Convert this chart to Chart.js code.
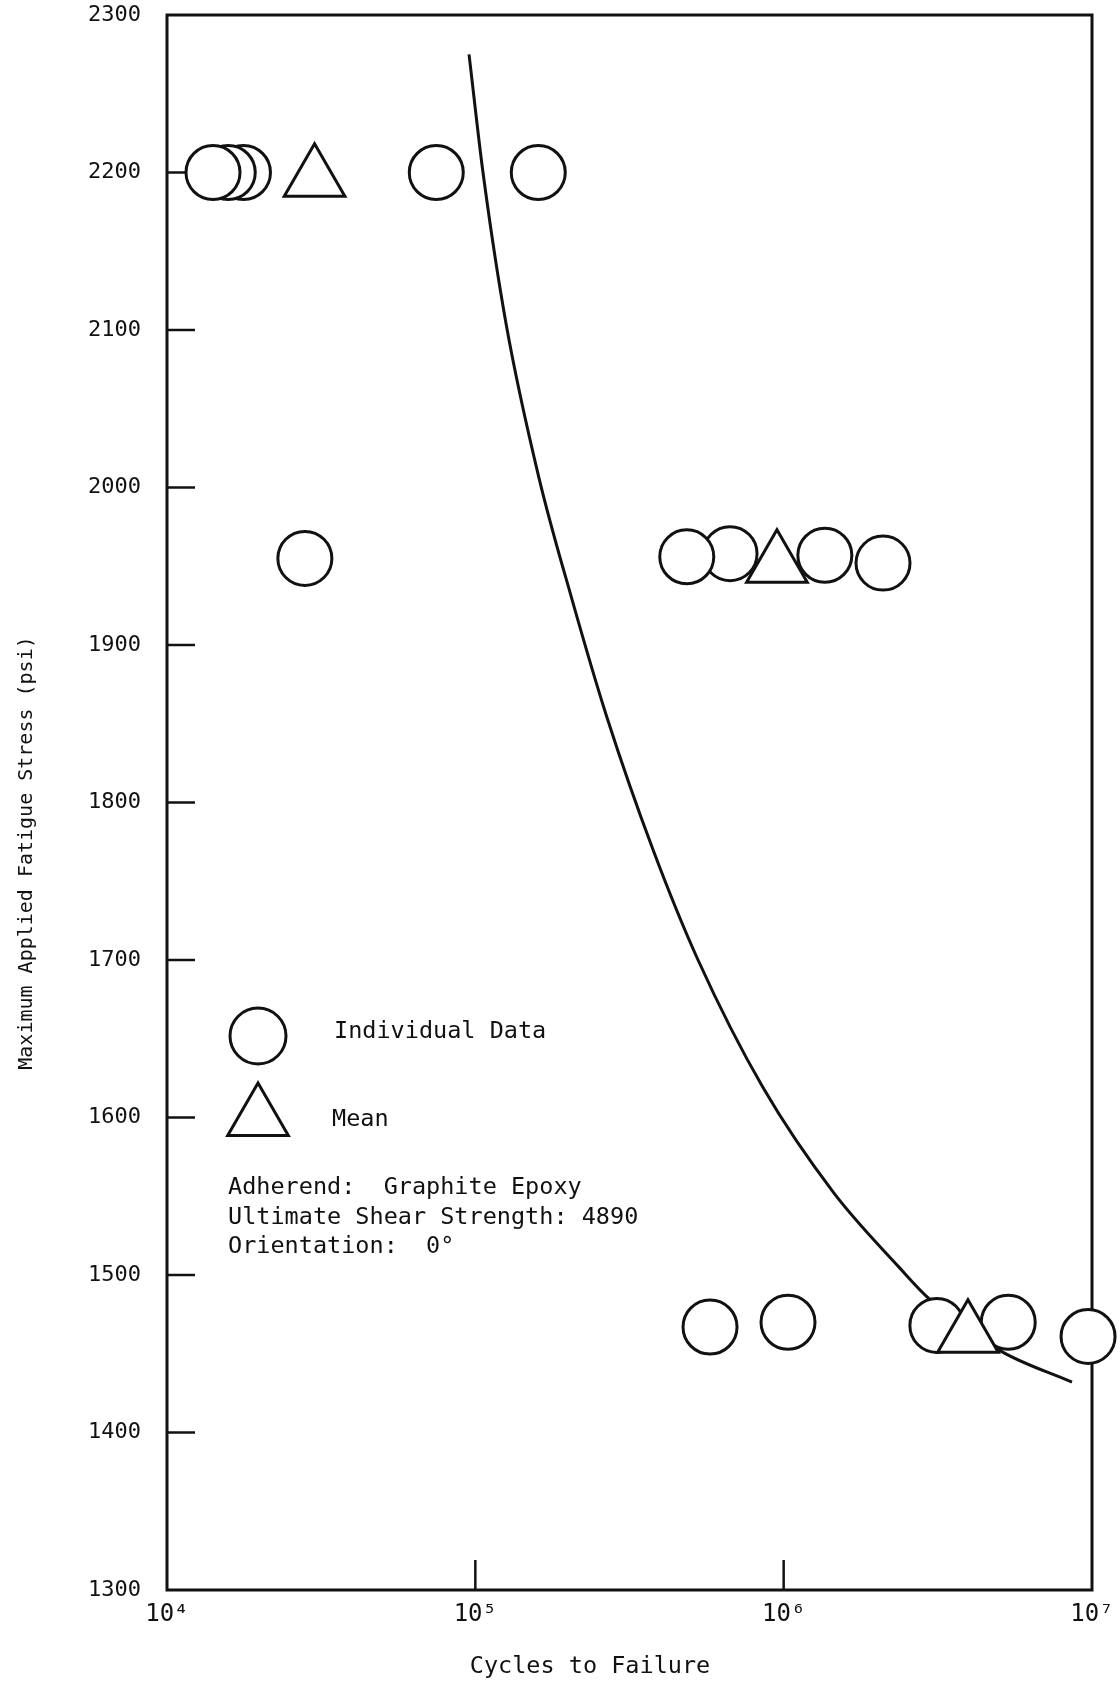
<!DOCTYPE html>
<html>
<head>
<meta charset="utf-8">
<script src="https://cdn.jsdelivr.net/npm/chart.js@4.4.1/dist/chart.umd.min.js"></script>
<style>
  html, body { margin: 0; padding: 0; background: #fff; }
  #wrap { width: 1120px; height: 1689px; }
</style>
</head>
<body>
<div id="wrap"><canvas id="sn_chart" width="1120" height="1689"></canvas></div>
<script>
// individual test results (cycles to failure, max stress psi)
// listed right-to-left inside each row so the left circles end up on top
const individualCycles = [1.77e4, 1.58e4, 1.41e4, 7.47e4, 1.6e5,
                          2.8e4, 2.1e6, 1.36e6, 6.7e5, 4.85e5,
                          9.71e6, 5.35e6, 3.14e6, 1.033e6, 5.77e5]
const individualStress = [2200, 2200, 2200, 2200, 2200,
                          1955, 1952, 1957, 1958, 1956,
                          1461, 1470, 1468, 1470, 1467]

// mean values
const meanCycles = [3.01e4, 9.51e5, 3.96e6]
const meanStress = [2196, 1951, 1462]

// fitted S-N curve
const curveCycles = [9.54e4, 1.059e5, 1.258e5, 1.609e5, 2.058e5, 2.673e5, 3.77e5,
                     5.276e5, 8.57e5, 1.456e6, 2.366e6, 2.96e6, 5.03e6, 8.61e6]
const curveStress = [2275, 2200, 2104, 2006, 1929, 1854, 1770,
                     1700, 1619, 1552, 1505, 1485, 1452, 1432]

const xTickValues = [1e4, 1e5, 1e6, 1e7]
const yMin = 1300
const yMax = 2300
const yStep = 100

const legendLabels = ['Individual Data', 'Mean']
const noteLines = ['Adherend:  Graphite Epoxy', 'Ultimate Shear Strength: 4890', 'Orientation:  0°']
const xTitle = 'Cycles to Failure'
const yTitle = 'Maximum Applied Fatigue Stress (psi)'

const sup = { '4': '\u2074', '5': '\u2075', '6': '\u2076', '7': '\u2077' }
const ink = '#111'
const mono = '"DejaVu Sans Mono", "Liberation Mono", monospace'

const toPoints = (xs, ys) => xs.map((x, i) => ({ x: x, y: ys[i] }))

// frame, inward ticks, legend box, notes and axis titles
const paperPlugin = {
    id: 'paper',
    beforeDraw: (chart) => {
        const ctx = chart.ctx
        ctx.save()
        ctx.fillStyle = '#fff'
        ctx.fillRect(0, 0, chart.width, chart.height)
        ctx.restore()
    },
    beforeDatasetsDraw: (chart) => {
        const ctx = chart.ctx
        const ca = chart.chartArea
        const xs = chart.scales.x
        const ys = chart.scales.y
        ctx.save()
        ctx.strokeStyle = ink
        ctx.lineWidth = 3
        ctx.strokeRect(ca.left, ca.top, ca.right - ca.left, ca.bottom - ca.top)
        ctx.lineWidth = 2.5
        ys.ticks.forEach(t => {
            if (t.value <= yMin || t.value >= yMax) return
            const py = ys.getPixelForValue(t.value)
            ctx.beginPath()
            ctx.moveTo(ca.left, py)
            ctx.lineTo(ca.left + 28, py)
            ctx.stroke()
        })
        xTickValues.slice(1, -1).forEach(v => {
            const px = xs.getPixelForValue(v)
            ctx.beginPath()
            ctx.moveTo(px, ca.bottom)
            ctx.lineTo(px, ca.bottom - 30)
            ctx.stroke()
        })
        ctx.restore()
    },
    afterDraw: (chart) => {
        const ctx = chart.ctx
        ctx.save()
        ctx.strokeStyle = ink
        ctx.fillStyle = ink
        ctx.lineWidth = 3

        // legend symbols
        ctx.beginPath()
        ctx.arc(258, 1036, 28, 0, Math.PI * 2)
        ctx.stroke()
        const r = 35, cx = 258, cy = 1118
        ctx.beginPath()
        ctx.moveTo(cx, cy - r)
        ctx.lineTo(cx + r * Math.sin(2 * Math.PI / 3), cy + r / 2)
        ctx.lineTo(cx - r * Math.sin(2 * Math.PI / 3), cy + r / 2)
        ctx.closePath()
        ctx.stroke()

        ctx.font = '23.5px ' + mono
        ctx.textBaseline = 'middle'
        ctx.textAlign = 'left'
        ctx.fillText(legendLabels[0], 334, 1032)
        ctx.fillText(legendLabels[1], 332, 1120)
        noteLines.forEach((line, i) => {
            ctx.fillText(line, 228, 1188 + i * 29.5)
        })

        // axis titles
        ctx.textAlign = 'center'
        ctx.fillText(xTitle, 590, 1667)
        ctx.translate(27, 853)
        ctx.rotate(-Math.PI / 2)
        ctx.font = '20px ' + mono
        ctx.fillText(yTitle, 0, 0)
        ctx.restore()
    }
}

const config = {
    data: {
        datasets: [
            {
                type: 'scatter',
                label: 'Mean',
                data: toPoints(meanCycles, meanStress),
                pointStyle: 'triangle',
                radius: 35,
                borderWidth: 3,
                borderColor: ink,
                backgroundColor: '#fff',
                clip: false,
                order: 0
            }, {
                type: 'scatter',
                label: 'Individual Data',
                data: toPoints(individualCycles, individualStress),
                pointStyle: 'circle',
                radius: 27,
                borderWidth: 3,
                borderColor: ink,
                backgroundColor: '#fff',
                clip: false,
                order: 1
            }, {
                type: 'line',
                label: 'S-N curve',
                data: toPoints(curveCycles, curveStress),
                borderColor: ink,
                borderWidth: 3,
                pointRadius: 0,
                cubicInterpolationMode: 'monotone',
                fill: false,
                order: 2
            }
        ]
    },
    options: {
        responsive: false,
        animation: false,
        events: [],
        layout: {
            autoPadding: false,
            padding: { top: 15, right: 28, left: 0, bottom: 0 }
        },
        plugins: {
            legend: { display: false },
            tooltip: { enabled: false },
            title: { display: false }
        },
        scales: {
            x: {
                type: 'logarithmic',
                min: xTickValues[0],
                max: xTickValues[xTickValues.length - 1],
                afterBuildTicks: (scale) => {
                    scale.ticks = xTickValues.map(v => ({ value: v, major: true }))
                },
                afterFit: (scale) => {
                    scale.height = 99
                    scale.paddingLeft = 0
                    scale.paddingRight = 0
                },
                grid: { display: false, drawTicks: false },
                border: { display: false },
                ticks: {
                    autoSkip: false,
                    maxRotation: 0,
                    padding: 10,
                    color: ink,
                    font: { family: mono, size: 24 },
                    callback: (v) => '10' + sup[String(Math.round(Math.log10(v)))]
                }
            },
            y: {
                type: 'linear',
                min: yMin,
                max: yMax,
                afterFit: (scale) => {
                    scale.width = 167
                    scale.paddingTop = 0
                    scale.paddingBottom = 0
                },
                grid: { display: false, drawTicks: false },
                border: { display: false },
                ticks: {
                    stepSize: yStep,
                    padding: 26,
                    color: ink,
                    font: { family: mono, size: 22 },
                    callback: (v) => String(v)
                }
            }
        }
    },
    plugins: [paperPlugin]
}

const snChart = new Chart(document.getElementById('sn_chart'), config)
</script>
</body>
</html>
